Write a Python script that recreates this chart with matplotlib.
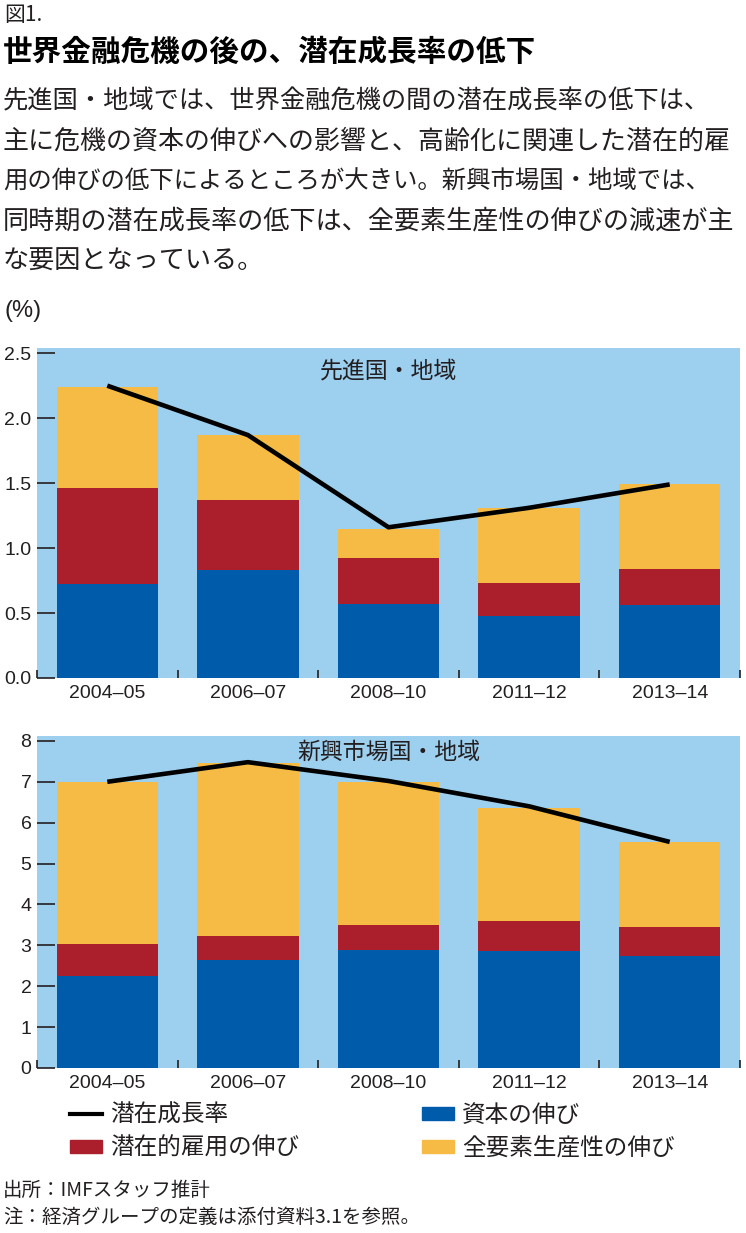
import numpy as np
import matplotlib.pyplot as plt
from matplotlib.lines import Line2D
from matplotlib.patches import Patch

plt.rcParams['font.family'] = ['Liberation Sans', 'Noto Sans CJK JP', 'DejaVu Sans']

# ---------------------------------------------------------------- data
periods = ['2004–05', '2006–07', '2008–10', '2011–12', '2013–14']

# advanced economies (%)
adv_capital = [0.72, 0.83, 0.57, 0.48, 0.56]
adv_employment = [0.74, 0.54, 0.35, 0.25, 0.28]
adv_tfp = [0.78, 0.50, 0.23, 0.58, 0.65]
adv_potential = [2.25, 1.87, 1.16, 1.31, 1.49]

# emerging market economies (%)
em_capital = [2.26, 2.65, 2.89, 2.86, 2.75]
em_employment = [0.78, 0.57, 0.60, 0.74, 0.70]
em_tfp = [3.96, 4.23, 3.51, 2.77, 2.08]
em_potential = [7.00, 7.48, 7.02, 6.40, 5.53]

body_lines = [
    '先進国・地域では、世界金融危機の間の潜在成長率の低下は、',
    '主に危機の資本の伸びへの影響と、高齢化に関連した潜在的雇',
    '用の伸びの低下によるところが大きい。新興市場国・地域では、',
    '同時期の潜在成長率の低下は、全要素生産性の伸びの減速が主',
    'な要因となっている。',
]

# ---------------------------------------------------------------- style
BG = '#9dcfef'
C_CAP = '#005baa'
C_EMP = '#ab1f2d'
C_TFP = '#f5bb45'
INK = '#231f20'
JP = 'Noto Sans CJK JP'

W, H = 746, 1233
fig = plt.figure(figsize=(W / 100, H / 100), dpi=100)


def px_axes(left, top, right, bottom):
    return fig.add_axes([left / W, 1 - bottom / H, (right - left) / W, (bottom - top) / H])


def ftext(x, y, s, **kw):
    fig.text(x / W, 1 - y / H, s, va='center', **kw)


def draw_panel(ax, cap, emp, tfp, pot, ymax, yticks, fmt, title, title_y):
    x = np.arange(len(periods))
    cap = np.array(cap)
    emp = np.array(emp)
    tfp = np.array(tfp)
    ax.set_facecolor(BG)
    ax.bar(x, cap, width=0.72, color=C_CAP, zorder=2)
    ax.bar(x, emp, bottom=cap, width=0.72, color=C_EMP, zorder=2)
    ax.bar(x, tfp, bottom=cap + emp, width=0.72, color=C_TFP, zorder=2)
    ax.plot(x, pot, color='black', lw=3.3, zorder=3, solid_capstyle='butt')
    ax.set_xlim(-0.5, len(periods) - 0.5)
    ax.set_ylim(0, ymax)
    for s in ax.spines.values():
        s.set_visible(False)
    # boundary ticks (inward, no label) and centred category labels
    ax.set_xticks(np.arange(-0.5, len(periods), 1))
    ax.set_xticklabels([])
    ax.set_xticks(x, minor=True)
    ax.set_xticklabels(periods, minor=True)
    ax.tick_params(axis='x', which='major', direction='in', length=6, width=1.2, color=INK)
    ax.tick_params(axis='x', which='minor', length=0, pad=5, labelsize=14, labelcolor=INK)
    ax.set_yticks(yticks)
    ax.set_yticklabels([fmt.format(v) for v in yticks])
    ax.tick_params(axis='y', direction='in', length=13, width=1.2, color=INK,
                   pad=4, labelsize=14, labelcolor=INK)
    ax.text(0.5, title_y, title, transform=ax.transAxes, ha='center', va='center',
            fontsize=16.5, family=JP, color=INK)


ax1 = px_axes(37, 348, 740, 678)
draw_panel(ax1, adv_capital, adv_employment, adv_tfp, adv_potential,
           2.54, [0, 0.5, 1.0, 1.5, 2.0, 2.5], '{:.1f}', '先進国・地域', 0.93)

ax2 = px_axes(37, 736, 740, 1068)
draw_panel(ax2, em_capital, em_employment, em_tfp, em_potential,
           8.12, list(range(0, 9)), '{:d}', '新興市場国・地域', 0.95)

# ---------------------------------------------------------------- header text
ftext(4, 15, '図1.', fontsize=15, family=JP, color=INK)
ftext(3, 52, '世界金融危機の後の、潜在成長率の低下', fontsize=21.3, family=JP,
      weight='bold', color='black')
body_sizes = [18.2, 18.7, 17.6, 18.8, 18.8]
for i, (line, fs) in enumerate(zip(body_lines, body_sizes)):
    ftext(3, 101 + 40 * i, line, fontsize=fs, family=JP, color=INK)
ftext(4, 311, '(%)', fontsize=17, color=INK)

# ---------------------------------------------------------------- legend
handles = [
    Line2D([], [], color='black', lw=3),
    Patch(color=C_EMP),
    Patch(color=C_CAP),
    Patch(color=C_TFP),
]
labels = ['潜在成長率', '潜在的雇用の伸び', '資本の伸び', '全要素生産性の伸び']
fig.legend(handles, labels, ncol=2, loc='upper left',
           bbox_to_anchor=(70 / W, 1 - 1104 / H), frameon=False,
           prop={'family': JP, 'size': 17}, handlelength=1.35, handleheight=0.5,
           handletextpad=0.35, columnspacing=5.2, labelspacing=0.42,
           borderpad=0, borderaxespad=0, labelcolor=INK)

# ---------------------------------------------------------------- notes
ftext(3, 1190, '出所：IMFスタッフ推計', fontsize=14, family=JP, color=INK)
ftext(3, 1217, '注：経済グループの定義は添付資料3.1を参照。', fontsize=14, family=JP, color=INK)

fig.savefig('out.png', dpi=100, facecolor='white')
